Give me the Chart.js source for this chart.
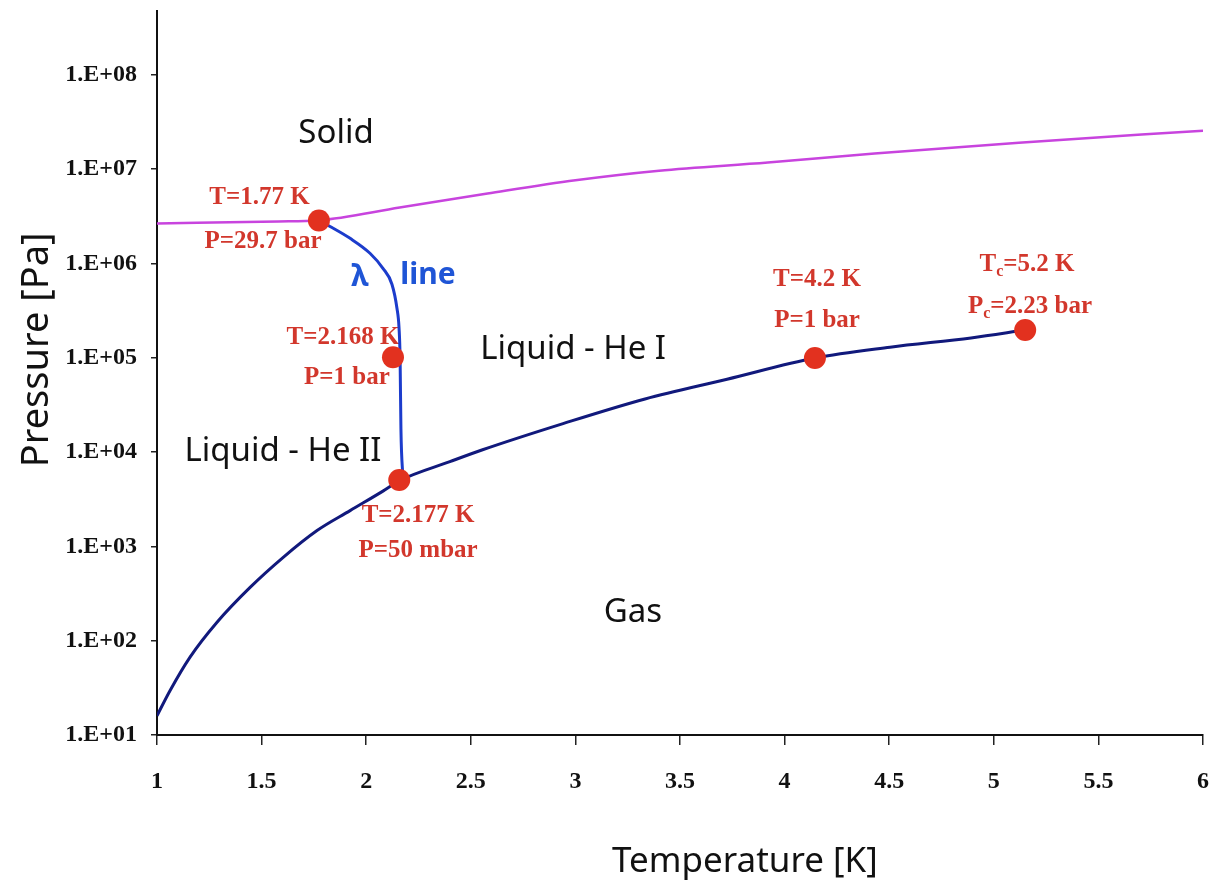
<!DOCTYPE html><html><head><title>Helium phase diagram</title>
<style>html,body{margin:0;padding:0;background:#fff;overflow:hidden}canvas{display:block}</style>
<script src="https://cdn.jsdelivr.net/npm/chart.js"></script>
</head><body><canvas id="chart" width="1221" height="890"></canvas>
<script>
// values: temperature in K, pressure in Pa
const meltT = [1.0, 1.58, 1.77, 2.16, 2.58, 3.0, 3.4, 3.92, 4.43, 5.12, 6.0];
const meltP = [2.65e6, 2.78e6, 2.85e6, 3.9e6, 5.5e6, 7.6e6, 9.6e6, 1.17e7, 1.46e7, 1.9e7, 2.55e7];
const lambdaT = [1.774, 1.827, 1.923, 2.018, 2.08, 2.123, 2.147, 2.157, 2.162, 2.166, 2.176];
const lambdaP = [2.85e6, 2.46e6, 1.84e6, 1.28e6, 8.85e5, 6.0e5, 3.34e5, 2.06e5, 9.9e4, 1.76e4, 5.1e3];
const vapT = [1.0, 1.062, 1.158, 1.287, 1.445, 1.602, 1.765, 1.923, 2.08, 2.162, 2.4, 2.553, 2.941, 3.333, 3.725, 4.145, 4.504, 4.891, 5.149];
const vapP = [16, 29.5, 67, 157, 367, 760, 1470, 2390, 3850, 5000, 7900, 1.05e4, 2.0e4, 3.65e4, 5.9e4, 9.9e4, 1.29e5, 1.62e5, 1.96e5];
const pointT = [1.774, 2.128, 2.158, 4.145, 5.15];
const pointP = [2.85e6, 1.01e5, 5.05e3, 9.9e4, 1.96e5];
const xTicks = [1, 1.5, 2, 2.5, 3, 3.5, 4, 4.5, 5, 5.5, 6];
const yExponents = [1, 2, 3, 4, 5, 6, 7, 8];

// text notes placed in data units; "_c" is a subscript
const noteText = ['Solid', 'Liquid - He I', 'Liquid - He II', 'Gas', 'λ', 'line',
  'T=1.77 K', 'P=29.7 bar', 'T=2.168 K', 'P=1 bar', 'T=2.177 K', 'P=50 mbar',
  'T=4.2 K', 'P=1 bar', 'T_c=5.2 K', 'P_c=2.23 bar'];
const noteT = [1.856, 2.989, 1.602, 3.275, 1.97, 2.295, 1.49, 1.507, 1.889, 1.908, 2.248, 2.248, 4.155, 4.155, 5.159, 5.173];
const noteP = [2.37e7, 1.23e5, 1.0e4, 200, 7.1e5, 7.5e5, 5.0e6, 1.71e6, 1.65e5, 6.1e4, 2.12e3, 904, 6.8e5, 2.5e5, 9.7e5, 3.5e5];
const noteKind = ['region', 'region', 'region', 'region', 'lambda', 'lambda',
  'point', 'point', 'point', 'point', 'point', 'point', 'point', 'point', 'point', 'point'];

const serif = '"Liberation Serif", "Times New Roman", serif';
const sans = '"Noto Sans", "Open Sans", sans-serif';
const kindStyle = {
  region: { family: sans, weight: 'normal', size: 33, color: '#111' },
  lambda: { family: sans, weight: 'bold', size: 30, color: '#1f55d6' },
  point: { family: serif, weight: 'bold', size: 25, color: '#d2372c' },
};

const pairs = (xs, ys) => xs.map((x, i) => ({ x, y: ys[i] }));

function drawRich(ctx, text, cx, cy, st) {
  const parts = text.split(/_(\w)/);
  const fontFor = i => st.weight + ' ' + (i % 2 ? Math.round(st.size * 0.62) : st.size) + 'px ' + st.family;
  const widths = parts.map((p, i) => { ctx.font = fontFor(i); return ctx.measureText(p).width; });
  let x = cx - widths.reduce((a, b) => a + b, 0) / 2;
  parts.forEach((p, i) => {
    ctx.font = fontFor(i);
    ctx.fillText(p, x, cy + (i % 2 ? st.size * 0.3 : 0));
    x += widths[i];
  });
}

const notes = {
  id: 'notes',
  beforeDatasetsDraw(chart) {
    const { ctx, scales: { x, y } } = chart;
    ctx.save();
    ctx.textBaseline = 'middle';
    ctx.textAlign = 'left';
    noteText.forEach((t, i) => {
      const st = kindStyle[noteKind[i]];
      ctx.fillStyle = st.color;
      drawRich(ctx, t, x.getPixelForValue(noteT[i]), y.getPixelForValue(noteP[i]), st);
    });
    ctx.restore();
  },
  afterDraw(chart) {
    const { ctx, chartArea: a } = chart;
    ctx.save();
    ctx.fillStyle = '#111';
    ctx.textAlign = 'center';
    ctx.textBaseline = 'middle';
    ctx.font = '35px ' + sans;
    ctx.fillText('Temperature [K]', a.left + (a.right - a.left) * 0.562, a.bottom + 127);
    ctx.font = '38px ' + sans;
    ctx.translate(37, a.top + (a.bottom - a.top) * 0.468);
    ctx.rotate(-Math.PI / 2);
    ctx.fillText('Pressure [Pa]', 0, 0);
    ctx.restore();
  }
};

const tickFont = { family: serif, weight: 'bold', size: 24 };

new Chart(document.getElementById('chart'), {
  type: 'scatter',
  data: {
    datasets: [
      { data: pairs(pointT, pointP), showLine: false, pointRadius: 11, pointBackgroundColor: '#e2311f', pointBorderWidth: 0 },
      { data: pairs(meltT, meltP), showLine: true, pointRadius: 0, borderColor: '#c844de', borderWidth: 2.5, cubicInterpolationMode: 'monotone' },
      { data: pairs(lambdaT, lambdaP), showLine: true, pointRadius: 0, borderColor: '#1c3ccc', borderWidth: 3, cubicInterpolationMode: 'monotone' },
      { data: pairs(vapT, vapP), showLine: true, pointRadius: 0, borderColor: '#11197c', borderWidth: 3, cubicInterpolationMode: 'monotone' },
    ]
  },
  options: {
    responsive: false,
    animation: false,
    layout: { padding: { top: 9, right: 18, left: 0, bottom: 0 } },
    plugins: { legend: { display: false }, tooltip: { enabled: false } },
    scales: {
      x: {
        type: 'linear', min: 1, max: 6,
        afterFit: s => { s.height = 155; s.paddingLeft = 0; s.paddingRight = 0; },
        afterBuildTicks: s => { s.ticks = xTicks.map(v => ({ value: v })); },
        ticks: { autoSkip: false, maxRotation: 0, color: '#111', font: tickFont, padding: 22, callback: v => String(v) },
        grid: { drawOnChartArea: false, drawTicks: true, tickLength: 10, color: '#222', lineWidth: 1.5 },
        border: { color: '#111', width: 2 }
      },
      y: {
        type: 'logarithmic', min: 10, max: 4.73e8,
        afterFit: s => { s.width = 157; s.paddingTop = 0; s.paddingBottom = 0; },
        afterBuildTicks: s => { s.ticks = yExponents.map(e => ({ value: Math.pow(10, e) })); },
        ticks: { color: '#111', font: tickFont, padding: 14, callback: v => '1.E+' + String(Math.round(Math.log10(v))).padStart(2, '0') },
        grid: { drawOnChartArea: false, drawTicks: true, tickLength: 6, color: '#222', lineWidth: 1.5 },
        border: { color: '#111', width: 2 }
      }
    }
  },
  plugins: [notes]
});
</script>
</body>
</html>
